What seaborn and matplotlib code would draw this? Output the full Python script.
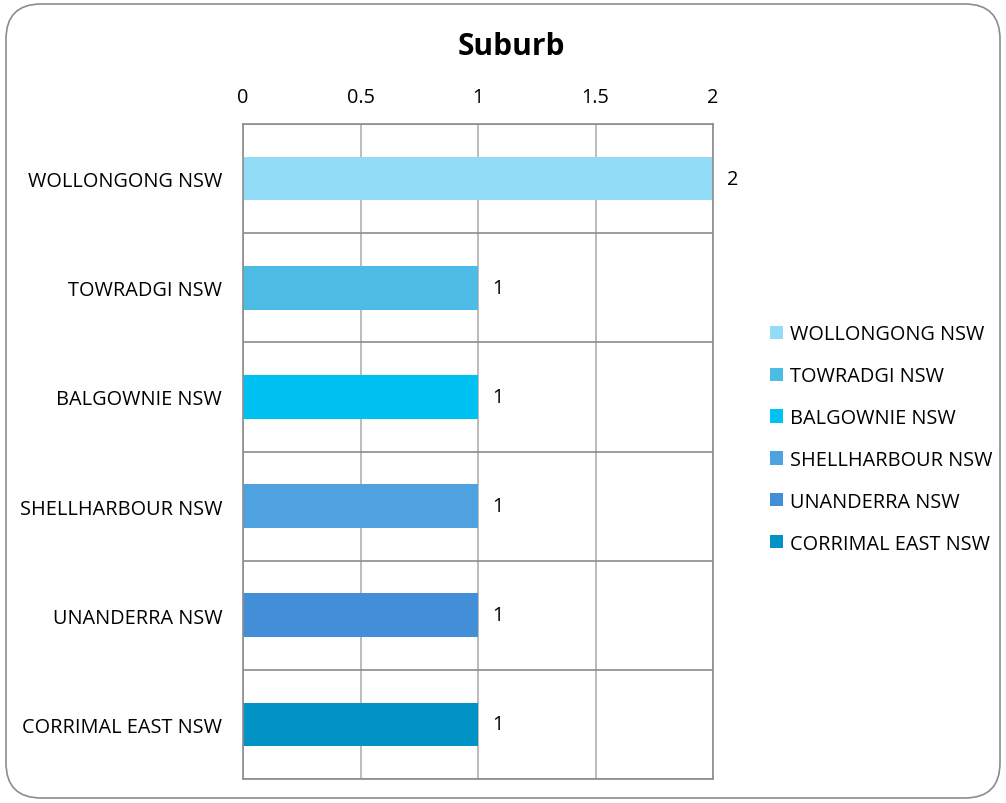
import matplotlib
matplotlib.use("Agg")
import matplotlib.pyplot as plt
import seaborn as sns
import pandas as pd
import numpy as np
from matplotlib.patches import FancyBboxPatch
from matplotlib.ticker import FixedLocator

suburbs = ["WOLLONGONG NSW", "TOWRADGI NSW", "BALGOWNIE NSW",
           "SHELLHARBOUR NSW", "UNANDERRA NSW", "CORRIMAL EAST NSW"]
counts = [2, 1, 1, 1, 1, 1]
colors = ["#93DCF7", "#4CBCE4", "#00C2F2", "#4FA2E0", "#428FD7", "#0093C4"]
x_ticks = [0, 0.5, 1, 1.5, 2]
x_tick_labels = ["0", "0.5", "1", "1.5", "2"]
title = "Suburb"

sns.set_style("white")
plt.rcParams['font.family'] = ['Open Sans', 'DejaVu Sans']
plt.rcParams['text.color'] = 'black'
plt.rcParams['xtick.color'] = 'black'
plt.rcParams['ytick.color'] = 'black'

df = pd.DataFrame({"suburb": suburbs, "count": counts})

fig = plt.figure(figsize=(10.06, 8.04), dpi=100)
ax = fig.add_axes([243/1006, 1-780/804, (713-243)/1006, (780-125)/804])

sns.barplot(data=df, y="suburb", x="count", hue="suburb", order=suburbs,
            hue_order=suburbs, palette=colors, width=0.4, dodge=False,
            orient="h", ax=ax, legend=True, saturation=1, linewidth=0)

ax.set_xlim(0, 2)
ax.set_ylim(len(suburbs) - 0.5, -0.5)
ax.xaxis.tick_top()
ax.set_xticks(x_ticks)
ax.set_xticklabels(x_tick_labels)
FS = 14.3
ax.tick_params(axis="x", length=0, pad=12, labelsize=FS, labelcolor="black")
ax.tick_params(axis="y", length=0, pad=15, labelsize=FS, labelcolor="black")
ax.set_xlabel("")
ax.set_ylabel("")

ax.yaxis.set_minor_locator(FixedLocator(np.arange(-0.5, len(suburbs), 1)))
ax.grid(axis="x", which="major", color="#B0B0B0", linewidth=1.2)
ax.grid(axis="y", which="minor", color="#8C8C8C", linewidth=1.2)
ax.tick_params(axis="y", which="minor", length=0)
ax.set_axisbelow(True)
for s in ax.spines.values():
    s.set_color("#8C8C8C")
    s.set_linewidth(1.2)

for cont in ax.containers:
    ax.bar_label(cont, fmt="%g", padding=10, fontsize=FS, color="black")

leg = ax.legend(loc="center left", bbox_to_anchor=(770/1006, 1-440/804),
                bbox_transform=fig.transFigure, frameon=False, fontsize=FS,
                handlelength=0.65, handleheight=0.65, handletextpad=0.35,
                labelspacing=1.1, borderaxespad=0, borderpad=0)
for t in leg.get_texts():
    t.set_color("black")

fig.text(511/1006, 1-47/804, title, ha="center", va="center",
         fontsize=21.5, fontweight="bold", color="black")

border = FancyBboxPatch((6/1006, 5/804), (1000-6)/1006, (799-5)/804,
                        boxstyle="round,pad=0,rounding_size=0.035",
                        transform=fig.transFigure, fill=False,
                        edgecolor="#8C8C8C", linewidth=1.2,
                        mutation_aspect=1006/804)
fig.patches.append(border)

fig.savefig("out.png", dpi=100)
